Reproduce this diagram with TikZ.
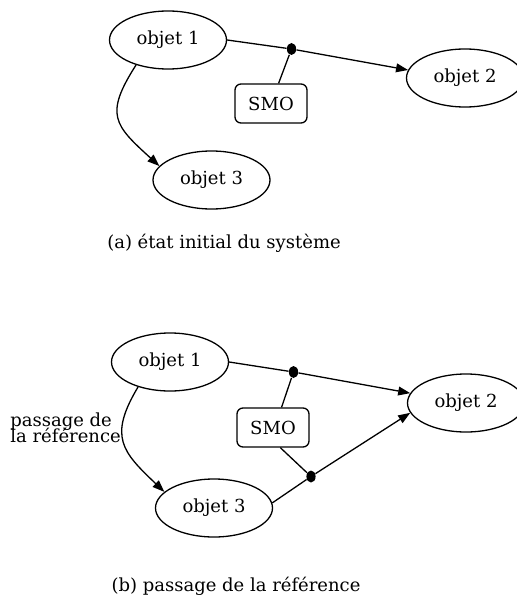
\documentclass[tikz,border=0pt]{standalone}
\usepackage{fontspec}
\setmainfont{DejaVu Serif}
\usetikzlibrary{shapes.geometric,arrows.meta}

% close line spacing for the two-line edge label
\newcommand{\tightlines}{\lineskiplimit=-100pt\relax}

\tikzset{
  every node/.style={font=\fontsize{9}{10.8}\selectfont},
  obj/.style={ellipse, draw, line width=0.65pt, inner sep=0pt,
              minimum width=58.5pt, minimum height=29pt},
  smobox/.style={rectangle, draw, line width=0.65pt, rounded corners=3pt,
                 inner sep=0pt, minimum width=36pt, minimum height=19.5pt},
  junction/.style={ellipse, fill, inner sep=0pt,
                   minimum width=4.6pt, minimum height=6pt},
  link/.style={line width=0.65pt},
  arr/.style={link, -{Triangle[length=6pt,width=4.4pt]}},
  caption/.style={anchor=base, inner sep=0pt}
}

\begin{document}
\begin{tikzpicture}[x=0.5pt, y=-0.5pt]
  \useasboundingbox (0,0) rectangle (517,599);

  % (a) initial state
  \node[obj]      (a1) at (168,40)    {objet 1};
  \node[obj]      (a2) at (465,78)    {objet 2};
  \node[obj]      (a3) at (211.5,180) {objet 3};
  \node[smobox]   (as) at (271,103.5) {SMO};
  \node[junction] (aj) at (291.5,49)  {};

  \draw[link] (a1.east) -- (aj);
  \draw[arr]  (aj) -- (a2.172);
  \draw[link] (as) -- (aj);
  \draw[arr]  (a1.218) .. controls +(-32,50) and +(-45,-41) .. (a3.165);

  \node[caption] (capa) at (224,248) {(a) état initial du système};

  % (b) reference handed over
  \node[obj]      (b1) at (170,362)   {objet 1};
  \node[obj]      (b2) at (466,403)   {objet 2};
  \node[obj]      (b3) at (214,508)   {objet 3};
  \node[smobox]   (bs) at (273,427.5) {SMO};
  \node[junction] (bj) at (293.5,372) {};
  \node[junction] (bk) at (311,476.5) {};

  \draw[link] (b1.east) -- (bj);
  \draw[arr]  (bj) -- (b2.170);
  \draw[link] (bs.67) -- (bj);
  \draw[link] (b3.5) -- (bk);
  \draw[arr]  (bk) -- (b2.190);
  \draw[link] (bs.-70) -- (bk);
  \draw[arr]  (b1.218) .. controls +(-30,50) and +(-42,-40) .. (b3.162);

  \node[anchor=north west, inner sep=0pt, align=left,
        font=\fontsize{9}{8.2}\selectfont\tightlines]
        (lbl) at (10,412) {passage de\\la référence};

  \node[caption] (capb) at (236,591) {(b) passage de la référence};
\end{tikzpicture}
\end{document}
